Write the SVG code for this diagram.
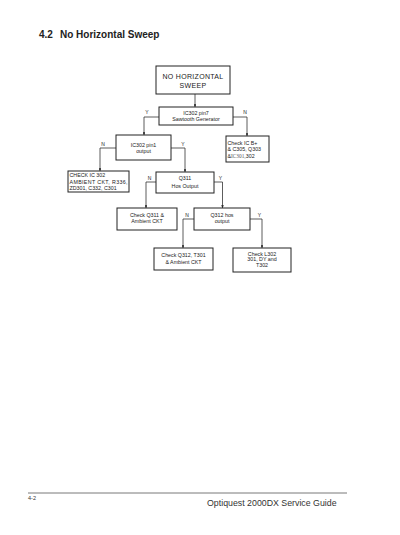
<svg xmlns="http://www.w3.org/2000/svg" width="400" height="535" viewBox="0 0 400 535">
<style>
.box{fill:#fff;stroke:#222;stroke-width:1}
.ln{fill:none;stroke:#333;stroke-width:0.8}
.t{font-family:"Liberation Sans",Arial,sans-serif;font-size:5.3px;fill:#222;text-anchor:middle}
.tl{font-family:"Liberation Sans",Arial,sans-serif;font-size:5.3px;fill:#222}
.big{font-family:"Liberation Sans",Arial,sans-serif;font-size:7px;fill:#222;text-anchor:middle;letter-spacing:0.3px}
.lab{font-family:"Liberation Sans",Arial,sans-serif;font-size:5px;fill:#222;text-anchor:middle}
</style>
<defs>
<marker id="ah" viewBox="0 0 6 6" refX="6" refY="3" markerWidth="3.5" markerHeight="3.5" orient="auto">
<path d="M0,0 L6,3 L0,6 z" fill="#222"/>
</marker>
</defs>
<rect width="400" height="535" fill="#fff"/>
<g id="title">
<text x="39" y="37.5" font-family="'Liberation Sans',Arial,sans-serif" font-weight="bold" font-size="10" fill="#222">4.2</text>
<text x="60" y="37.5" font-family="'Liberation Sans',Arial,sans-serif" font-weight="bold" font-size="10" fill="#222">No Horizontal Sweep</text>
</g>
<g id="connectors">
<path class="ln" d="M195,94 V107" marker-end="url(#ah)"/>
<path class="ln" d="M159,117 H144 V135" marker-end="url(#ah)"/>
<path class="ln" d="M233,117 H247 V136" marker-end="url(#ah)"/>
<path class="ln" d="M116,148 H100 V171" marker-end="url(#ah)"/>
<path class="ln" d="M171,148 H185 V172" marker-end="url(#ah)"/>
<path class="ln" d="M156,182 H146 V208" marker-end="url(#ah)"/>
<path class="ln" d="M214,182 H222.5 V208" marker-end="url(#ah)"/>
<path class="ln" d="M194,219 H183 V248" marker-end="url(#ah)"/>
<path class="ln" d="M250,219 H262 V248" marker-end="url(#ah)"/>
<text class="lab" x="147" y="114">Y</text>
<text class="lab" x="245" y="114">N</text>
<text class="lab" x="103" y="146">N</text>
<text class="lab" x="183" y="146">Y</text>
<text class="lab" x="149.5" y="179.5">N</text>
<text class="lab" x="220.5" y="179.5">Y</text>
<text class="lab" x="187" y="217">N</text>
<text class="lab" x="259.5" y="217">Y</text>
</g>
<g id="n-start">
<rect class="box" x="156" y="66" width="74" height="28"/>
<text class="big" x="193" y="78.5">NO HORIZONTAL</text>
<text class="big" x="193" y="87.5">SWEEP</text>
</g>
<g id="n-ic302pin7">
<rect class="box" x="159" y="107" width="74" height="18"/>
<text class="t" x="196" y="114.5">IC302 pin7</text>
<text class="t" x="196" y="121">Sawtooth Generator</text>
</g>
<g id="n-ic302pin1">
<rect class="box" x="116" y="135" width="55" height="25"/>
<text class="t" x="143.5" y="146.5">IC302 pin1</text>
<text class="t" x="143.5" y="153">output</text>
</g>
<g id="n-checkicb">
<rect class="box" x="226" y="136" width="43" height="26"/>
<text class="tl" x="227.5" y="145">Check IC B+</text>
<text class="tl" x="227.5" y="151">&amp; C305, Q303</text>
<text class="tl" x="227.5" y="157.5">&amp;<tspan font-family="'Liberation Serif',serif" fill="#555">IC301</tspan>,302</text>
</g>
<g id="n-checkic302">
<rect class="box" x="68" y="171" width="61" height="21"/>
<text class="tl" x="69.5" y="177">CHECK IC 302</text>
<text class="tl" x="69.5" y="183.5" textLength="58">AMBIENT CKT,  R336,</text>
<text class="tl" x="69.5" y="190">ZD301, C332, C301</text>
</g>
<g id="n-q311">
<rect class="box" x="156" y="172" width="58" height="21"/>
<text class="t" x="185" y="180">Q311</text>
<text class="t" x="185" y="187.5">Hos Output</text>
</g>
<g id="n-checkq311">
<rect class="box" x="117" y="208" width="60" height="22"/>
<text class="t" x="147" y="216.5">Check Q311 &amp;</text>
<text class="t" x="147" y="222.5">Ambient CKT</text>
</g>
<g id="n-q312">
<rect class="box" x="194" y="208" width="56" height="22"/>
<text class="t" x="222" y="216.5">Q312 hos</text>
<text class="t" x="222" y="222.5">output</text>
</g>
<g id="n-checkq312">
<rect class="box" x="154" y="248" width="59" height="22"/>
<text class="t" x="183.5" y="257">Check Q312, T301</text>
<text class="t" x="183.5" y="263.5">&amp; Ambient CKT</text>
</g>
<g id="n-checkl302">
<rect class="box" x="233" y="248" width="58" height="24"/>
<text class="t" x="262" y="255.5">Check L302</text>
<text class="t" x="262" y="261">301, DY and</text>
<text class="t" x="262" y="266.5">T302</text>
</g>
<g id="footer">
<line x1="28" y1="493" x2="347" y2="493" stroke="#555" stroke-width="0.8"/>
<text x="28" y="499.5" font-family="'Liberation Sans',Arial,sans-serif" font-size="5.5" fill="#333">4-2</text>
<text x="207" y="506" font-family="'Liberation Sans',Arial,sans-serif" font-size="8.8" fill="#333">Optiquest 2000DX Service Guide</text>
</g>
</svg>
